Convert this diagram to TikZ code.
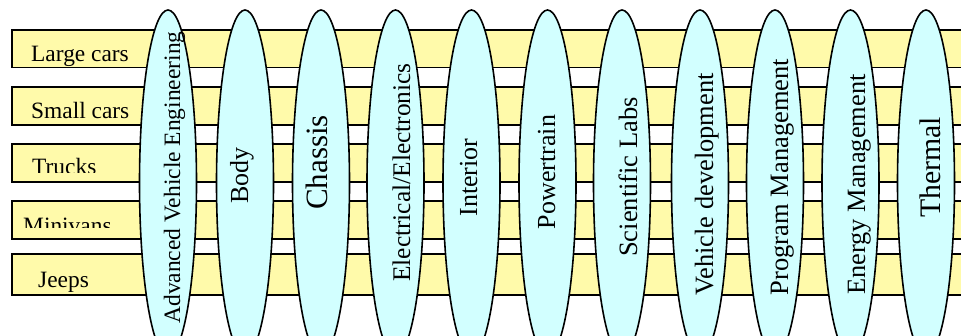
\documentclass[tikz,border=0pt]{standalone}
\usepackage{fontspec}
\setmainfont{Liberation Serif}
\usetikzlibrary{shapes.geometric}
\definecolor{baryellow}{RGB}{255,250,170}
\definecolor{ovalcyan}{RGB}{210,255,255}
\begin{document}
\begin{tikzpicture}[x=1pt,y=-1pt,
  bar/.style={draw=black,line width=1.6pt,fill=baryellow,rectangle,inner sep=0pt,anchor=north west,minimum width=990pt},
  oval/.style={draw=black,line width=1.6pt,fill=ovalcyan,ellipse,inner sep=0pt,minimum width=57pt,minimum height=346pt},
  bartext/.style={anchor=base west,inner sep=0pt,font=\fontsize{23.4}{27}\selectfont},
  ovaltext/.style={anchor=base,inner sep=0pt,rotate=90}
]
\useasboundingbox (0,0) rectangle (961,335);
\clip (0,0) rectangle (961,335);
% bars
\node[bar,minimum height=37.5pt] (b1) at (11,29) {};
\node[bar,minimum height=38pt] (b2) at (11,86) {};
\node[bar,minimum height=38pt] (b3) at (11,143) {};
\node[bar,minimum height=38pt] (b4) at (11,200) {};
\node[bar,minimum height=41pt] (b5) at (11,253) {};
\node[bartext] (t1) at (31,61) {Large cars};
\node[bartext] (t2) at (31,118) {Small cars};
\begin{scope}
\clip (0,143) rectangle (961,172);
\node[bartext] (t3) at (32,174.5) {Trucks};
\end{scope}
\begin{scope}
\clip (0,200) rectangle (961,227.5);
\node[bartext] (t4) at (23,233.5) {Minivans};
\end{scope}
\node[bartext] (t5) at (38,287) {Jeeps};
% ovals
\node[oval] (e1) at (168,183) {};
\node[oval] (e2) at (245,183) {};
\node[oval] (e3) at (321,183) {};
\node[oval] (e4) at (395.5,183) {};
\node[oval] (e5) at (471.5,183) {};
\node[oval] (e6) at (547.5,183) {};
\node[oval] (e7) at (622,183) {};
\node[oval] (e8) at (700,183) {};
\node[oval] (e9) at (775,183) {};
\node[oval] (e10) at (850.5,183) {};
\node[oval] (e11) at (926,183) {};
% oval labels
\node[ovaltext,font=\fontsize{23.5}{27}\selectfont] (l1) at (180,177.5) {Advanced Vehicle Engineering};
\node[ovaltext,font=\fontsize{26}{30}\selectfont] (l2) at (248,175.5) {Body};
\node[ovaltext,font=\fontsize{31}{35}\selectfont] (l3) at (327,162.5) {Chassis};
\node[ovaltext,font=\fontsize{25.4}{30}\selectfont] (l4) at (410,172.5) {Electrical/Electronics};
\node[ovaltext,font=\fontsize{26}{30}\selectfont] (l5) at (477,177.5) {Interior};
\node[ovaltext,font=\fontsize{26}{30}\selectfont] (l6) at (555,172) {Powertrain};
\node[ovaltext,font=\fontsize{26.5}{30}\selectfont] (l7) at (637,177) {Scientific Labs};
\node[ovaltext,font=\fontsize{26.4}{30}\selectfont] (l8) at (713,184.5) {Vehicle development};
\node[ovaltext,font=\fontsize{26.5}{30}\selectfont] (l9) at (788,177) {Program Management};
\node[ovaltext,font=\fontsize{26.4}{30}\selectfont] (l10) at (865,184.5) {Energy Management};
\node[ovaltext,font=\fontsize{29.8}{34}\selectfont] (l11) at (940,167.5) {Thermal};
\end{tikzpicture}
\end{document}
